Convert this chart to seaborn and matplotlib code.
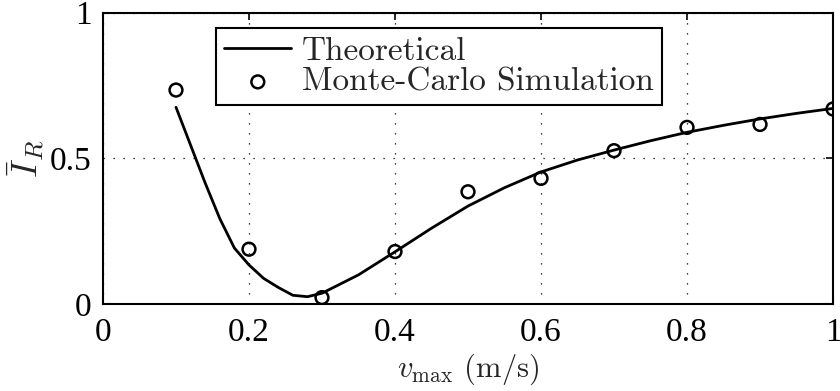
import numpy as np
import pandas as pd
import matplotlib
matplotlib.use("Agg")
import matplotlib.pyplot as plt
import seaborn as sns

# Theoretical curve
theory_x = [0.10, 0.12, 0.14, 0.16, 0.18, 0.20, 0.22, 0.24, 0.26, 0.28, 0.30,
            0.35, 0.40, 0.45, 0.50, 0.55, 0.60, 0.65, 0.70, 0.75, 0.80, 0.85,
            0.90, 0.95, 1.00]
theory_y = [0.675, 0.545, 0.415, 0.293, 0.192, 0.134, 0.088, 0.057, 0.030, 0.025, 0.037,
            0.100, 0.179, 0.260, 0.336, 0.399, 0.453, 0.494, 0.528, 0.560, 0.589, 0.613,
            0.635, 0.654, 0.671]

# Monte-Carlo simulation
mc_x = [0.1, 0.2, 0.3, 0.4, 0.5, 0.6, 0.7, 0.8, 0.9, 1.0]
mc_y = [0.734, 0.188, 0.022, 0.180, 0.385, 0.431, 0.526, 0.606, 0.616, 0.669]

xticks = [0, 0.2, 0.4, 0.6, 0.8, 1]
xticklabels = ["0", "0.2", "0.4", "0.6", "0.8", "1"]
yticks = [0, 0.5, 1]
yticklabels = ["0", "0.5", "1"]

sns.set_theme(style="white")
plt.rcParams["font.family"] = ["Liberation Serif", "DejaVu Serif"]
plt.rcParams["mathtext.fontset"] = "cm"

fig = plt.figure(figsize=(8.4, 3.91), dpi=100)
ax = fig.add_axes([0.1226, 0.2225, 0.8691, 0.7455])

df_t = pd.DataFrame({"x": theory_x, "y": theory_y})
df_m = pd.DataFrame({"x": mc_x, "y": mc_y})

sns.lineplot(data=df_t, x="x", y="y", ax=ax, color="black", linewidth=2.0,
             label="Theoretical", zorder=3)
sns.scatterplot(data=df_m, x="x", y="y", ax=ax, marker="o", s=85,
                facecolor="none", edgecolor="black", linewidth=1.8,
                label="Monte-Carlo Simulation", zorder=4)

ax.set_xlim(0, 1)
ax.set_ylim(0, 1)
ax.set_xticks(xticks)
ax.set_xticklabels(xticklabels)
ax.set_yticks(yticks)
ax.set_yticklabels(yticklabels)
ax.tick_params(direction="in", length=5, width=1.2, top=True, right=True,
               labelsize=24, colors="black")
ax.tick_params(axis="x", pad=10)
ax.tick_params(axis="y", pad=8)
ax.grid(True, linestyle=(0, (1, 7)), color="black", linewidth=0.9)
for s in ax.spines.values():
    s.set_visible(True)
    s.set_color("black")
    s.set_linewidth(1.5)

ax.set_xlabel(r"$v_{\max}$ (m/s)", fontsize=22, labelpad=2,
              family=["cmr10", "DejaVu Serif"])
ax.set_ylabel(r"$\bar{I}_R$", fontsize=26, labelpad=2)

leg = ax.legend(loc="upper left", bbox_to_anchor=(0.155, 0.947),
                borderaxespad=0, frameon=True, fancybox=False,
                edgecolor="black", handlelength=2.0,
                handletextpad=0.33, borderpad=0.25, labelspacing=0.05,
                prop={"family": ["cmr10", "DejaVu Serif"], "size": 24})
leg.get_frame().set_linewidth(1.5)
leg.get_frame().set_facecolor("white")
leg.get_frame().set_alpha(1)

fig.savefig("out.png", dpi=100)
